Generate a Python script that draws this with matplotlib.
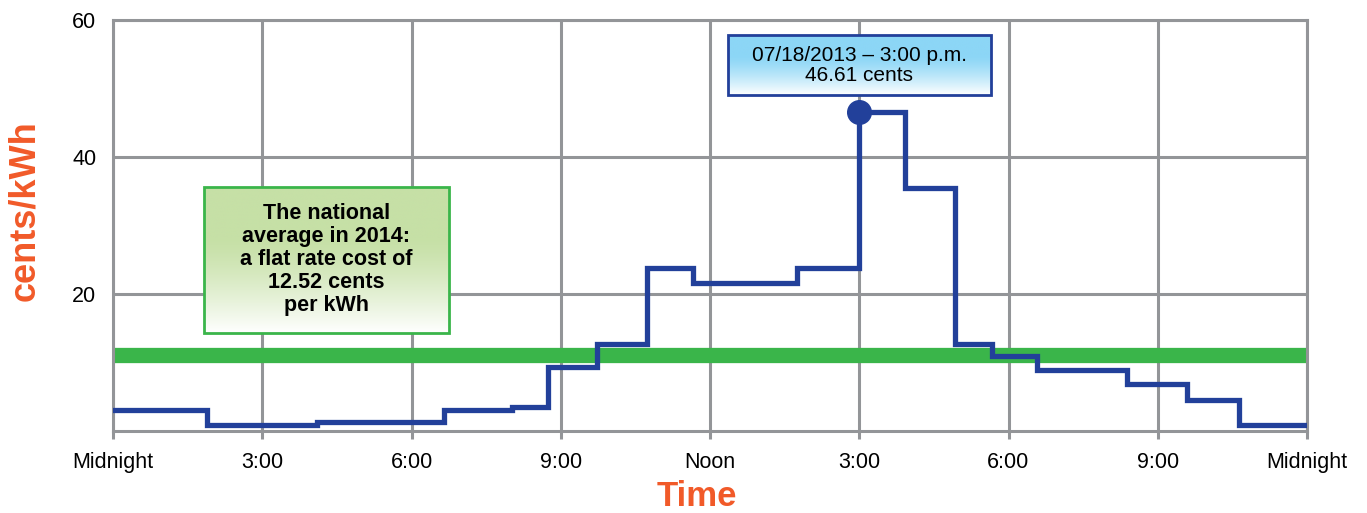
import numpy as np
import matplotlib
matplotlib.use("Agg")
import matplotlib.pyplot as plt
from matplotlib.patches import Rectangle

plt.rcParams['font.family'] = ['Liberation Sans', 'DejaVu Sans']

# hourly price steps (hours since midnight, cents/kWh)
step_edges = [0, 1.89, 4.1, 6.65, 8.02, 8.74, 9.73, 10.73, 11.66, 13.75,
              15.0, 15.92, 16.92, 17.67, 18.57, 20.38, 21.59, 22.64, 24]
step_values = [3.0, 0.85, 1.3, 3.0, 3.5, 9.3, 12.7, 23.8, 21.6, 23.8,
               46.61, 35.5, 12.7, 10.9, 8.95, 6.8, 4.5, 0.85]
flat_rate = 11.1
peak_hour = 15.0
peak_value = 46.61

x_ticks = [0, 3, 6, 9, 12, 15, 18, 21, 24]
x_labels = ['Midnight', '3:00', '6:00', '9:00', 'Noon', '3:00', '6:00', '9:00', 'Midnight']
y_ticks = [20, 40, 60]

grid_gray = '#939598'
orange = '#f15a29'
blue = '#22409a'
green = '#3ab54a'

fig = plt.figure(figsize=(13.67, 5.13), dpi=100)
ax = fig.add_axes([113 / 1367, 1 - 431 / 513, 1194 / 1367, 411 / 513])

# grid
for x in x_ticks:
    ax.axvline(x, color=grid_gray, lw=2.2, zorder=1)
for y in [20, 40, 60]:
    ax.axhline(y, color=grid_gray, lw=2.2, zorder=1)
for s in ax.spines.values():
    s.set_color(grid_gray)
    s.set_linewidth(2.2)

ax.set_xticks(x_ticks)
ax.set_xticklabels(x_labels, fontsize=15.5)
ax.set_yticks(y_ticks)
ax.set_yticklabels([str(v) for v in y_ticks], fontsize=15.5)
ax.tick_params(axis='x', length=6, width=2.2, color=grid_gray, pad=9)
ax.tick_params(axis='y', length=0, pad=12)

# flat rate line
ax.axhline(flat_rate, color=green, lw=11, zorder=2)

# price steps
ax.plot(step_edges, step_values + [step_values[-1]], drawstyle='steps-post',
        color=blue, lw=3.8, zorder=3, solid_joinstyle='miter')
ax.plot([peak_hour], [peak_value], 'o', color=blue, ms=17, zorder=4)


def gradient_box(x0, x1, y0, y1, top_color, edge_color):
    top = np.array(matplotlib.colors.to_rgb(top_color))
    t = np.linspace(0, 1, 256)[:, None]
    w = np.clip((t - 0.35) / 0.65, 0, 1) ** 1.3
    img = top * (1 - w[..., None]) + np.ones(3) * w[..., None]
    img = np.repeat(img, 2, axis=1)
    ax.imshow(img, extent=[x0, x1, y0, y1], aspect='auto', zorder=5,
              interpolation='bilinear')
    ax.add_patch(Rectangle((x0, y0), x1 - x0, y1 - y0, fill=False,
                           ec=edge_color, lw=2, zorder=6))


gradient_box(1.83, 6.75, 14.3, 35.6, '#c6e0a6', green)
ax.text((1.83 + 6.75) / 2, 25.0,
        'The national\naverage in 2014:\na flat rate cost of\n12.52 cents\nper kWh',
        ha='center', va='center', fontsize=15.5, fontweight='bold',
        linespacing=1.12, zorder=7)

gradient_box(12.36, 17.65, 49.05, 57.8, '#8cd6f6', blue)
ax.text((12.36 + 17.65) / 2, 53.4, '07/18/2013 \u2013 3:00 p.m.\n46.61 cents',
        ha='center', va='center', fontsize=15, linespacing=1.08, zorder=7)

ax.set_xlim(0, 24)
ax.set_ylim(0, 60)

fig.text(25 / 1367, 1 - 211 / 513, 'cents/kWh', rotation=90, color=orange,
         fontsize=26, fontweight='bold', ha='center', va='center')
fig.text(697 / 1367, 1 - 496 / 513, 'Time', color=orange, fontsize=25,
         fontweight='bold', ha='center', va='center')

fig.savefig('out.png', dpi=100)
